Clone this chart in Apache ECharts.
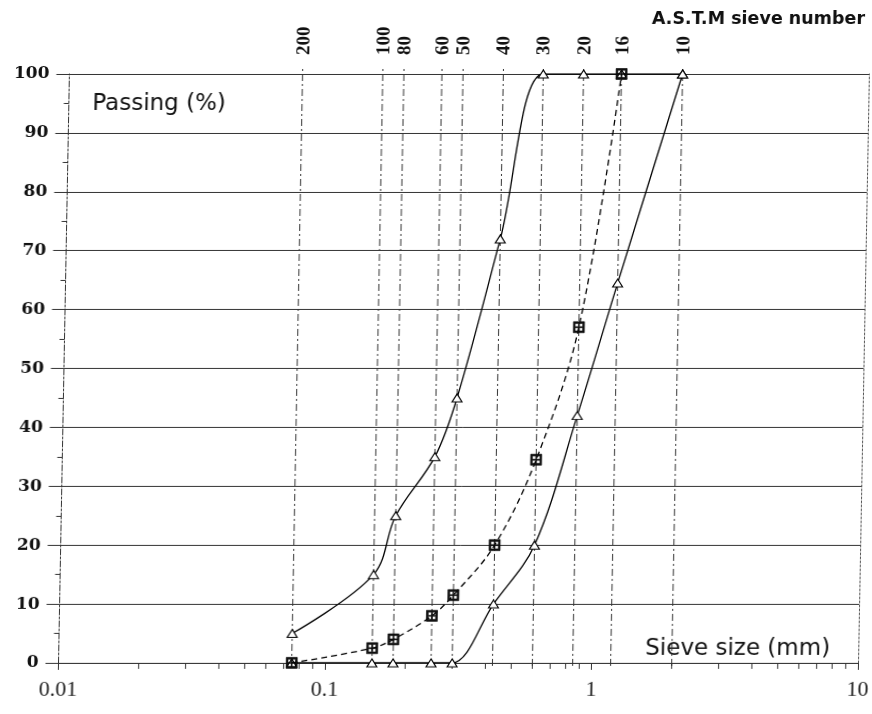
<!DOCTYPE html>
<html>
<head>
<meta charset="utf-8">
<script src="https://cdn.jsdelivr.net/npm/echarts@6/dist/echarts.min.js"></script>
<style>
html,body{margin:0;padding:0;background:#fff;}
#c{width:872px;height:714px;transform:skewX(-1.06deg);transform-origin:0 663px;}
</style>
</head>
<body>
<div id="c"></div>
<script>
// ASTM sieve numbers and their openings (mm)
const sieveNumbers = ['200','100','80','60','50','40','30','20','16','10'];
const sieveSizes = [0.075,0.15,0.18,0.25,0.3,0.425,0.6,0.85,1.18,2.0];

// Grading curves (passing %)
const fineSizes = [0.075,0.15,0.18,0.25,0.3,0.425,0.6,0.85,1.18,2.0];
const finePassing = [5,15,25,35,45,72,100,100,100,100];

const mediumSizes = [0.075,0.15,0.18,0.25,0.3,0.425,0.6,0.85,1.18];
const mediumPassing = [0,2.5,4,8,11.5,20,34.5,57,100];

const coarseSizes = [0.075,0.15,0.18,0.25,0.3,0.425,0.6,0.85,1.18,2.0];
const coarsePassing = [0,0,0,0,0,10,20,42,64.5,100];

// Axis ticks
const xTickLabels = ['0.01','0.1','1','10'];
const xMinorTicks = [0.02,0.03,0.04,0.05,0.06,0.07,0.08,0.09,
                     0.2,0.3,0.4,0.5,0.6,0.7,0.8,0.9,
                     2,3,4,5,6,7,8,9];

const pairs = (xs, ys) => xs.map((x, i) => [x, ys[i]]);

const squareSymbol = 'path://M0,0H10V10H0Z M1.6,1.6V4.6H4.6V1.6Z M5.4,1.6V4.6H8.4V1.6Z M1.6,5.4V8.4H4.6V5.4Z M5.4,5.4V8.4H8.4V5.4Z';

const chart = echarts.init(document.getElementById('c'), null, {renderer: 'canvas'});

const option = {
  animation: false,
  backgroundColor: '#fff',
  grid: {left: 55, right: 12, top: 74, bottom: 51},
  xAxis: {
    type: 'log',
    logBase: 10,
    min: 0.01,
    max: 10,
    axisLine: {show: true, onZero: false, lineStyle: {color: '#222', width: 1.2}},
    axisTick: {show: true, length: 7, lineStyle: {color: '#333'}},
    minorTick: {show: false},
    splitLine: {show: false},
    axisLabel: {
      margin: 16,
      fontFamily: 'Liberation Serif',
      fontSize: 22,
      color: '#222',
      formatter: v => {
        const s = String(+(+v).toPrecision(3));
        return xTickLabels.indexOf(s) >= 0 ? s : '';
      }
    }
  },
  yAxis: [{
    type: 'value',
    min: 0,
    max: 100,
    interval: 10,
    axisLine: {show: true, lineStyle: {color: '#333', width: 1, type: [6, 2, 2, 2]}},
    axisTick: {show: true, length: 13, lineStyle: {color: '#333'}},
    minorTick: {show: true, splitNumber: 2, length: 5, lineStyle: {color: '#333'}},
    axisLabel: {margin: 20, fontFamily: 'DejaVu Serif', fontWeight: 'bold', fontSize: 17, color: '#111'},
    splitLine: {show: true, lineStyle: {color: '#333', width: 1}}
  }, {
    type: 'value',
    position: 'right',
    min: 0,
    max: 100,
    interval: 10,
    axisLine: {show: true, lineStyle: {color: '#555', width: 1, type: [2, 2]}},
    axisTick: {show: false},
    axisLabel: {show: false},
    splitLine: {show: false}
  }],
  graphic: [
    {type: 'text', x: 82, y: 104, style: {text: 'Passing (%)', fontFamily: 'DejaVu Sans', fontSize: 23, fill: '#111', verticalAlign: 'middle'}},
    {type: 'text', x: 645, y: 649, style: {text: 'Sieve size (mm)', fontFamily: 'DejaVu Sans', fontSize: 23, fill: '#111', verticalAlign: 'middle'}},
    {type: 'text', x: 640, y: 19, style: {text: 'A.S.T.M sieve number', fontFamily: 'DejaVu Sans', fontWeight: 'bold', fontSize: 17.5, fill: '#111', verticalAlign: 'middle'}}
  ],
  series: [
    {
      type: 'custom',
      name: 'sieves',
      silent: true,
      clip: false,
      z: 1,
      data: sieveSizes.map((s, i) => [s, i]),
      encode: {x: 0, y: 1},
      renderItem: (params, api) => {
        const s = api.value(0);
        const i = api.value(1);
        const b = api.coord([s, 0]);
        const t = api.coord([s, 100]);
        return {
          type: 'group',
          children: [
            {type: 'line', shape: {x1: b[0], y1: b[1] + 3, x2: t[0], y2: t[1] - 7},
             style: {stroke: '#333', lineWidth: 1, lineDash: [7, 3, 2, 3]}},
            {type: 'text', x: t[0] + 1, y: t[1] - 19, rotation: Math.PI / 2,
             style: {text: sieveNumbers[i], fontFamily: 'Liberation Serif', fontWeight: 'bold', fontSize: 19,
                     fill: '#111', align: 'left', verticalAlign: 'middle'}}
          ]
        };
      }
    },
    {
      type: 'custom',
      name: 'minorTicks',
      silent: true,
      clip: false,
      z: 1,
      data: xMinorTicks.map(v => [v, 0]),
      encode: {x: 0, y: 1},
      renderItem: (params, api) => {
        const c = api.coord([api.value(0), 0]);
        return {type: 'line', shape: {x1: c[0], y1: c[1], x2: c[0], y2: c[1] + 6},
                style: {stroke: '#333', lineWidth: 1}};
      }
    },
    {
      type: 'line',
      name: 'coarse',
      data: pairs(coarseSizes, coarsePassing),
      smooth: 0.35,
      symbol: 'triangle',
      symbolSize: [10, 8],
      showAllSymbol: true,
      lineStyle: {color: '#000', width: 1.3},
      itemStyle: {color: '#fff', borderColor: '#000', borderWidth: 1.1},
      z: 3
    },
    {
      type: 'line',
      name: 'fine',
      data: pairs(fineSizes, finePassing),
      smooth: 0.35,
      symbol: 'triangle',
      symbolSize: [10, 8],
      showAllSymbol: true,
      lineStyle: {color: '#000', width: 1.3},
      itemStyle: {color: '#fff', borderColor: '#000', borderWidth: 1.1},
      z: 4
    },
    {
      type: 'line',
      name: 'medium',
      data: pairs(mediumSizes, mediumPassing),
      smooth: 0.35,
      symbol: squareSymbol,
      symbolSize: 11,
      showAllSymbol: true,
      lineStyle: {color: '#000', width: 1.3, type: [6, 4]},
      itemStyle: {color: '#111', borderColor: '#000', borderWidth: 0.6},
      z: 5
    }
  ]
};

chart.setOption(option);
</script>
</body>
</html>
